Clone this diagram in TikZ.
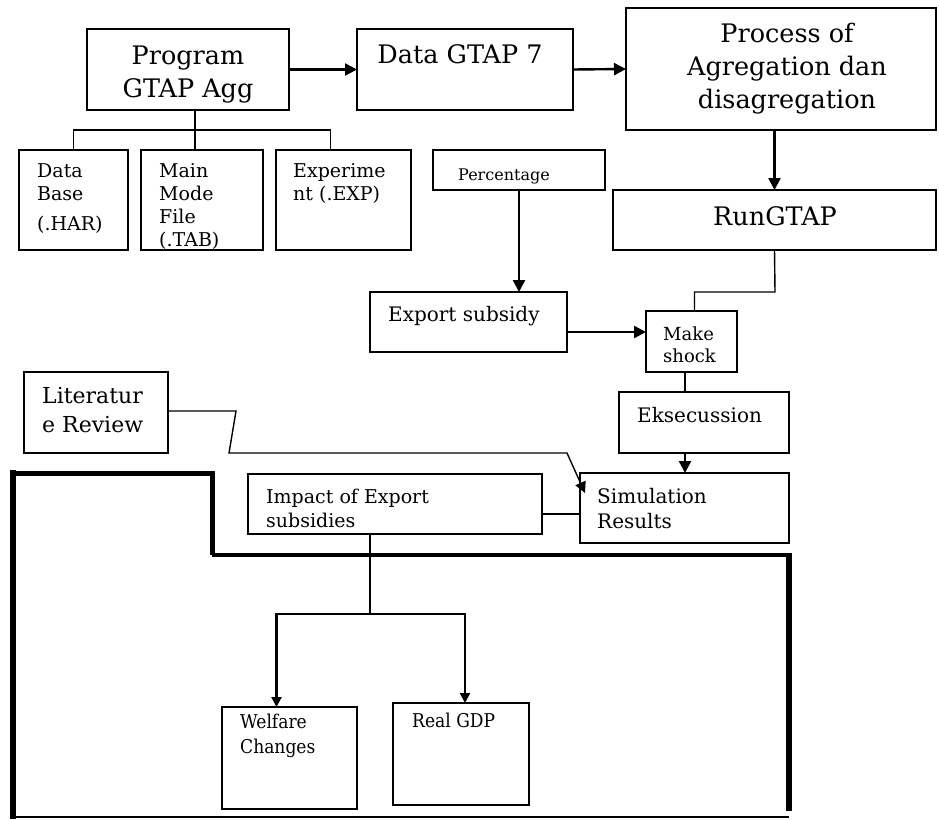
\documentclass[tikz,border=0pt]{standalone}
\usepackage{fontspec}
\setmainfont{DejaVu Serif}
\newfontfamily\condfont[FakeStretch=0.9]{DejaVu Serif}
\usetikzlibrary{arrows.meta}
\newcommand\fsz[2]{\fontsize{#1}{#2}\selectfont}
\begin{document}
\begin{tikzpicture}[x=1pt,y=-1pt,
  box/.style={draw, line width=1.8pt, inner sep=0pt, outer sep=0pt, anchor=north west},
  txt/.style={inner sep=0pt, anchor=base west, align=left},
  ctxt/.style={inner sep=0pt, anchor=base, align=center},
  arr/.style={line width=2.4pt, -{Triangle[length=12pt,width=12pt]}},
  arrs/.style={line width=2.2pt, -{Triangle[length=10pt,width=10pt]}},
  ln/.style={line width=1.4pt},
  big/.style={font=\fsz{25.5}{33}},
  mid/.style={font=\fsz{20}{25}},
  sml/.style={font=\fsz{19}{23}}
]
\useasboundingbox (0,0) rectangle (939,819);
\fill[white] (0,0) rectangle (939,819);

% boxes
\node[box, minimum width=202pt, minimum height=81pt] (pga) at (87,29) {};
\node[box, minimum width=216pt, minimum height=81pt] (dg7) at (357,29) {};
\node[box, minimum width=310pt, minimum height=122pt] (proc) at (626,8) {};
\node[box, minimum width=109pt, minimum height=100pt] (db) at (19,150) {};
\node[box, minimum width=122pt, minimum height=100pt] (mmf) at (141,150) {};
\node[box, minimum width=135pt, minimum height=100pt] (exp) at (276,150) {};
\node[box, minimum width=172pt, minimum height=40pt] (pct) at (433,150) {};
\node[box, minimum width=323pt, minimum height=60pt] (run) at (613,190) {};
\node[box, minimum width=197pt, minimum height=60pt] (exs) at (370,292) {};
\node[box, minimum width=91pt, minimum height=61pt] (mks) at (646,311) {};
\node[box, minimum width=170pt, minimum height=61pt] (eks) at (619,392) {};
\node[box, minimum width=144pt, minimum height=81pt] (lit) at (24,372) {};
\node[box, minimum width=294pt, minimum height=60pt] (imp) at (248,474) {};
\node[box, minimum width=209pt, minimum height=70pt] (sim) at (580,473) {};
\node[box, minimum width=135pt, minimum height=102pt] (wel) at (222,707) {};
\node[box, minimum width=136pt, minimum height=102pt] (gdp) at (393,703) {};

% texts (multi-line: anchor is the baseline of the last line)
\node[ctxt, big] (pgat) at (188,97) {Program\\GTAP Agg};
\node[ctxt, big] (dg7t) at (460,63) {Data GTAP 7};
\node[ctxt, big] (proct) at (787,108) {Process of\\Agregation dan\\disagregation};
\node[ctxt, big] (runt) at (775,225) {RunGTAP};
\node[txt, sml] (dbt) at (37,230) {Data\\Base\\[7pt](.HAR)};
\node[txt, sml] (mmft) at (159,246) {Main\\Mode\\File\\(.TAB)};
\node[txt, sml] (expt) at (293,200) {Experime\\nt (.EXP)};
\node[txt, font=\fsz{16}{20}] (pctt) at (458,180) {Percentage};
\node[txt, mid] (exst) at (388,321) {Export subsidy};
\node[txt, font=\fsz{18}{22}] (mkst) at (663,362) {Make\\shock};
\node[txt, mid] (ekst) at (637,422) {Eksecussion};
\node[txt, font=\fsz{22}{29}] (litt) at (42,432) {Literatur\\e Review};
\node[txt, font=\fsz{19}{24}] (impt) at (266,527) {Impact of Export\\subsidies};
\node[txt, mid] (simt) at (597,528) {Simulation\\Results};
\node[txt, font=\condfont\fsz{19}{25}] (welt) at (240,753) {Welfare\\Changes};
\node[txt, font=\condfont\fsz{19}{25}] (gdpt) at (412,727) {Real GDP};

% tree under Program GTAP Agg
\coordinate (t) at (195,130);
\draw[ln] (pga.south -| t) -- (t);
\draw[ln] (db.north) |- (t);
\draw[ln] (t) -- (t |- mmf.north);
\draw[ln] ([xshift=-13pt]exp.north) |- (t);

% main arrows
\draw[arr] (pga.east) -- (dg7.west);
\draw[arr] (dg7.east) -- (proc.west);
\draw[arr] (proc.south -| run.north) -- (run.north);
\draw[arr] (pct.south) -- (pct.south |- exs.north);
\coordinate (es) at (567,332);
\draw[arr] (es) -- (es -| mks.west);
\coordinate (rb) at (775,292);
\draw[ln] (run.south) -- (rb) -| ([xshift=3pt]mks.north);
\coordinate (mb) at (685,372);
\draw[ln] (mb) -- (mb |- eks.north);
\draw[arr] (mb |- eks.south) -- (mb |- sim.north);

% literature review connector
\coordinate (l1) at (236,411);
\coordinate (l2) at (229,453);
\coordinate (l3) at (567,453);
\coordinate (l4) at (585,493);
\draw[ln, -{Triangle[length=11pt,width=11pt]}] (lit.east |- l1) -- (l1) -- (l2) -- (l3) -- (l4);

% impact to simulation
\coordinate (is) at (542,514);
\draw[ln] (is) -- (is -| sim.west);

% frame
\draw[line width=6pt] (13,819) -- (13,470);
\draw[line width=5pt] (10,473) -- (212,473) -- (212,555);
\draw[line width=3.5pt] (212,555) -- (789,555);
\draw[line width=5.5pt] (789,553) -- (789,811);
\draw[line width=2.2pt] (12,817) -- (789,817);

% impact branches
\coordinate (ib) at (370,614);
\draw[ln] (ib |- imp.south) -- (ib);
\draw[arrs] (ib) -| ([xshift=-13pt]wel.north);
\draw[arrs] (ib) -| ([xshift=4pt]gdp.north);
\end{tikzpicture}
\end{document}
